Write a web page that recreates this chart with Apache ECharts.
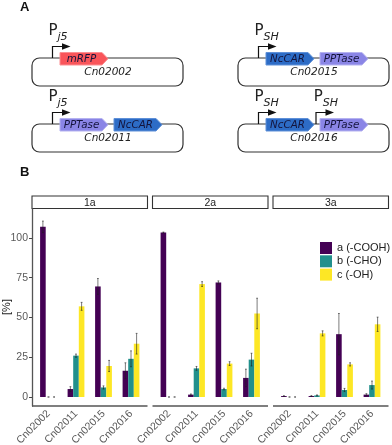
<!DOCTYPE html>
<html>
<head>
<meta charset="utf-8">
<style>html,body{margin:0;padding:0;background:#fff}#main{width:392px;height:445px}</style>
<script src="https://cdn.jsdelivr.net/npm/echarts@6/dist/echarts.min.js"></script>
</head>
<body>
<div id="main"></div>
<script>
var categories = ['Cn02002', 'Cn02011', 'Cn02015', 'Cn02016'];
var panels = ['1a', '2a', '3a'];
var seriesNames = ['a (-COOH)', 'b (-CHO)', 'c (-OH)'];
var yTicks = [0, 25, 50, 75, 100];

// values per panel and product
var a1 = [107, 5, 69.5, 16.5];
var b1 = [0, 26, 6, 24];
var c1 = [0, 57, 19.5, 33.5];
var a2 = [103.4, 1.5, 72, 12];
var b2 = [0, 18, 5, 23.5];
var c2 = [0, 71, 21, 52.5];
var a3 = [0.6, 0.6, 39.5, 1.5];
var b3 = [0, 1, 4.4, 7.5];
var c3 = [0, 40, 20.5, 45.7];

// error bars (+/-)
var aErr1 = [3.6, 1.5, 5, 5];
var bErr1 = [0, 1, 1, 5];
var cErr1 = [0, 2.5, 3.5, 6.5];
var aErr2 = [0.3, 0.4, 1, 5.5];
var bErr2 = [0, 1.2, 0.5, 4];
var cErr2 = [0, 1.5, 1.2, 9.6];
var aErr3 = [0.2, 0.3, 13, 0.6];
var bErr3 = [0, 0.3, 1, 2.5];
var cErr3 = [0, 1.6, 1, 4.5];

var values = [[a1, b1, c1], [a2, b2, c2], [a3, b3, c3]];
var errors = [[aErr1, bErr1, cErr1], [aErr2, bErr2, cErr2], [aErr3, bErr3, cErr3]];

var colors = ['#440154', '#21908c', '#fde725'];
var geneColors = { mRFP: '#f9555a', NcCAR: '#2d6cc6', PPTase: '#8a85e6' };
var geneBorder = { mRFP: '#fb8f92', NcCAR: '#5f90d8', PPTase: '#b5b2f0' };
var textFont = '"Liberation Sans", Arial, sans-serif';
var diagramFont = '"DejaVu Sans", Verdana, sans-serif';

var panelLeft = [32, 152.5, 273];
var panelWidth = 115.5;
var bandWidth = 27.5;
var plotTop = 209;
var plotBottom = 406;
var barWidth = 5.6;

var graphics = [];
var grids = [], xAxes = [], yAxes = [], series = [];

function addText(text, x, y, size, opt) {
    opt = opt || {};
    graphics.push({
        type: 'text', x: x, y: y, silent: true,
        rotation: opt.rotation || 0,
        style: {
            text: text, fontSize: size, fontFamily: opt.font || diagramFont,
            fontStyle: opt.italic ? 'italic' : 'normal',
            fontWeight: opt.bold ? 'bold' : 'normal',
            fill: opt.color || '#222',
            align: opt.align || 'left', verticalAlign: 'middle'
        }
    });
}

function addPromoter(x, yBase, label, shift) {
    // bent arrow + P label with subscript
    graphics.push({
        type: 'polyline', silent: true,
        shape: { points: [[x, yBase], [x, yBase - 11.5], [x + 12, yBase - 11.5]] },
        style: { stroke: '#111', lineWidth: 1.2, fill: 'none' }
    });
    graphics.push({
        type: 'polygon', silent: true,
        shape: { points: [[x + 9.5, yBase - 14.8], [x + 18, yBase - 11.5], [x + 9.5, yBase - 8.2]] },
        style: { fill: '#111' }
    });
    addText('P', x - 4 + shift, yBase - 26.5, 15);
    addText(label, x + 5 + shift, yBase - 21, 11, { italic: true });
}

function addGene(name, x, y) {
    graphics.push({
        type: 'polygon', silent: true,
        shape: { points: [[x, y], [x + 42, y], [x + 48, y + 6.2], [x + 42, y + 12.5], [x, y + 12.5]] },
        style: { fill: geneColors[name], stroke: geneBorder[name], lineWidth: 1 }
    });
    addText(name, x + 21.5, y + 6.5, 10.3, { italic: true, align: 'center', color: '#14143c' });
}

function addPlasmid(x, y, name, genes, promoters) {
    graphics.push({
        type: 'rect', silent: true,
        shape: { x: x, y: y, width: 151, height: 28, r: 7.5 },
        style: { fill: '#fff', stroke: '#333', lineWidth: 1.2 }
    });
    addText(name, x + 76, y + 14.5, 10.5, { italic: true, align: 'center' });
    for (var i = 0; i < promoters.length; i++) {
        addPromoter(x + promoters[i].dx, y, promoters[i].label, promoters[i].shift || 0);
    }
    for (var k = 0; k < genes.length; k++) {
        addGene(genes[k], x + 28 + k * 54, y - 5.5);
    }
}

addText('A', 20, 7, 13, { bold: true, font: textFont, color: '#111' });
addText('B', 20, 172, 13, { bold: true, font: textFont, color: '#111' });
addText('[%]', 6.5, 307, 11, { font: textFont, align: 'center', rotation: Math.PI / 2 });
addPlasmid(32, 58, 'Cn02002', ['mRFP'], [{ dx: 20.5, label: 'j5' }]);
addPlasmid(32, 124, 'Cn02011', ['PPTase', 'NcCAR'], [{ dx: 20.5, label: 'j5' }]);
addPlasmid(238, 58, 'Cn02015', ['NcCAR', 'PPTase'], [{ dx: 20.5, label: 'SH' }]);
addPlasmid(238, 124, 'Cn02016', ['NcCAR', 'PPTase'], [{ dx: 20.5, label: 'SH' }, { dx: 78, label: 'SH', shift: 1.7 }]);

function errorRender(offset) {
    return function(params, api) {
        var low = api.coord([api.value(0), api.value(1)]);
        var high = api.coord([api.value(0), api.value(2)]);
        var x = low[0] + offset;
        var style = { stroke: 'rgba(30,30,30,0.65)', lineWidth: 0.9 };
        return {
            type: 'group',
            children: [
                { type: 'line', shape: { x1: x, y1: low[1], x2: x, y2: high[1] }, style: style },
                { type: 'line', shape: { x1: x - 0.9, y1: low[1], x2: x + 0.9, y2: low[1] }, style: style },
                { type: 'line', shape: { x1: x - 0.9, y1: high[1], x2: x + 0.9, y2: high[1] }, style: style }
            ]
        };
    };
}

panels.forEach(function(panel, p) {
    var left = panelLeft[p];

    // strip header
    graphics.push({
        type: 'rect', silent: true,
        shape: { x: left, y: 196, width: panelWidth, height: 12.5 },
        style: { fill: '#fff', stroke: '#333', lineWidth: 1.1 }
    });
    addText(panel, left + panelWidth / 2, 202.8, 10.5, { font: textFont, align: 'center', color: '#222' });

    // bottom line of the facet, runs past the outer bands
    graphics.push({
        type: 'line', silent: true,
        shape: { x1: left, y1: plotBottom, x2: left + panelWidth, y2: plotBottom },
        style: { stroke: '#555', lineWidth: 1.3 }
    });

    grids.push({
        left: left + 0.1 * bandWidth,
        top: plotTop,
        width: 4 * bandWidth,
        height: plotBottom - plotTop,
        outerBoundsMode: 'none' // rotated labels run off the page, don't shrink the grid for them
    });
    xAxes.push({
        type: 'category', gridIndex: p, data: categories,
        axisLine: { show: false },
        axisTick: { alignWithLabel: true, length: 3, lineStyle: { color: '#444' } },
        axisLabel: {
            rotate: 45, interval: 0, margin: 6, color: '#5a5a5a',
            fontSize: 10.5, fontFamily: textFont
        }
    });
    yAxes.push({
        type: 'value', gridIndex: p, min: -5.66, max: 118.2,
        offset: p === 0 ? 0.1 * bandWidth : 0,
        splitLine: { show: false },
        axisLine: { show: p === 0, onZero: false, lineStyle: { color: '#555', width: 1.3 } },
        axisTick: { show: p === 0, length: 3, customValues: yTicks, lineStyle: { color: '#444' } },
        axisLabel: {
            show: p === 0, customValues: yTicks, margin: 4, color: '#5a5a5a',
            fontSize: 10.5, fontFamily: textFont
        }
    });

    seriesNames.forEach(function(name, s) {
        series.push({
            type: 'bar', name: name,
            xAxisIndex: p, yAxisIndex: p,
            data: values[p][s],
            barWidth: barWidth, barGap: 0,
            itemStyle: { color: colors[s] },
            animation: false
        });
    });
    seriesNames.forEach(function(name, s) {
        series.push({
            type: 'custom', name: 'err ' + name,
            xAxisIndex: p, yAxisIndex: p, z: 5,
            renderItem: errorRender((s - 1) * barWidth),
            encode: { x: 0, y: [1, 2] },
            data: values[p][s].map(function(v, i) {
                return [i, v - errors[p][s][i], v + errors[p][s][i]];
            }),
            animation: false
        });
    });
});

var chart = echarts.init(document.getElementById('main'));
chart.setOption({
    animation: false,
    backgroundColor: '#fff',
    grid: grids,
    xAxis: xAxes,
    yAxis: yAxes,
    legend: {
        data: seriesNames.map(function(n) { return { name: n, icon: 'rect' }; }),
        orient: 'vertical',
        left: 320, top: 242, itemWidth: 12, itemHeight: 12, itemGap: 1.3,
        selectedMode: false,
        textStyle: { color: '#222', fontSize: 11, fontFamily: textFont },
        padding: 0
    },
    graphic: graphics,
    series: series
});
</script>
</body>
</html>
